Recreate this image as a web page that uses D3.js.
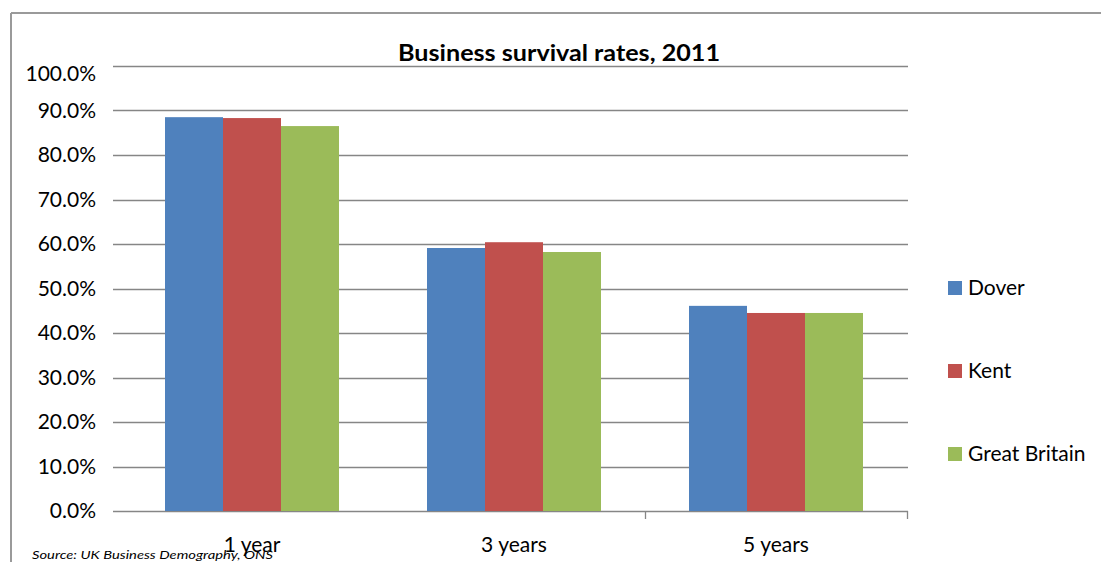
<!DOCTYPE html>
<html>
<head>
<meta charset="utf-8">
<script src="https://cdn.jsdelivr.net/npm/d3@7"></script>
<style>
  html, body { margin: 0; padding: 0; background: #fff; }
  svg { display: block; }
  text { font-family: Lato, "Open Sans", sans-serif; fill: #000; }
</style>
</head>
<body>
<svg id="chart" width="1101" height="562"></svg>
<script>
const categories = ["1 year", "3 years", "5 years"];
const seriesNames = ["Dover", "Kent", "Great Britain"];
const dover = [0.885, 0.591, 0.461];
const kent = [0.883, 0.604, 0.445];
const greatBritain = [0.865, 0.582, 0.445];
const yTicks = [0, 0.1, 0.2, 0.3, 0.4, 0.5, 0.6, 0.7, 0.8, 0.9, 1.0];
const colors = ["#4F81BD", "#C0504D", "#9BBB59"];
const title = "Business survival rates, 2011";
const source = "Source: UK Business Demography, ONS";

const seriesValues = [dover, kent, greatBritain];
const svg = d3.select("#chart");

// outer chart border (top and left visible)
svg.append("line").attr("x1", 11).attr("x2", 1101).attr("y1", 13).attr("y2", 13)
  .attr("stroke", "#9a9a9a").attr("stroke-width", 2);
svg.append("line").attr("x1", 11).attr("x2", 11).attr("y1", 13).attr("y2", 562)
  .attr("stroke", "#9a9a9a").attr("stroke-width", 2);

const plotLeft = 113, plotRight = 908, plotTop = 66, plotBottom = 511;

const y = d3.scaleLinear().domain([0, 1]).range([plotBottom, plotTop]);
const x0 = d3.scaleBand().domain(categories).range([121, 907])
  .paddingInner(88 / 262).paddingOuter(44 / 262);
const x1 = d3.scaleBand().domain(seriesNames).range([0, x0.bandwidth()]).padding(0);

// gridlines
svg.append("g").selectAll("line").data(yTicks).join("line")
  .attr("x1", plotLeft).attr("x2", plotRight)
  .attr("y1", d => Math.round(y(d)) + 0.5).attr("y2", d => Math.round(y(d)) + 0.5)
  .attr("stroke", "#868686").attr("stroke-width", 1.3);

// y tick labels
svg.append("g").selectAll("text").data(yTicks).join("text")
  .attr("x", 96)
  .attr("y", d => y(d) + (d === 1 ? 8 : 0))
  .attr("dy", "0.35em")
  .attr("text-anchor", "end")
  .attr("font-size", 21)
  .text(d => d3.format(".1%")(d));

// bars
const groups = svg.append("g").selectAll("g").data(categories).join("g")
  .attr("transform", c => `translate(${x0(c)},0)`);
groups.selectAll("rect")
  .data((c, i) => seriesNames.map((s, j) => ({ s, j, v: seriesValues[j][i] })))
  .join("rect")
  .attr("x", d => x1(d.s))
  .attr("width", x1.bandwidth())
  .attr("y", d => y(d.v))
  .attr("height", d => y(0) - y(d.v))
  .attr("fill", d => colors[d.j]);

// x axis tick marks (visible after 2nd and 3rd categories)
const step = x0.step();
const boundaries = categories.slice(1).map(c => x0(c) + x0.bandwidth() + step * x0.paddingInner() / 2);
svg.append("g").selectAll("line").data(boundaries).join("line")
  .attr("x1", d => Math.round(d) + 0.5).attr("x2", d => Math.round(d) + 0.5)
  .attr("y1", plotBottom).attr("y2", plotBottom + 8)
  .attr("stroke", "#868686").attr("stroke-width", 1.3);

// category labels
svg.append("g").selectAll("text").data(categories).join("text")
  .attr("x", c => x0(c) + x0.bandwidth() / 2)
  .attr("y", 552)
  .attr("text-anchor", "middle")
  .attr("font-size", 21)
  .text(c => c);

// title
svg.append("text")
  .attr("x", 559).attr("y", 61)
  .attr("text-anchor", "middle")
  .attr("font-size", 22).attr("font-weight", "bold")
  .attr("textLength", 322).attr("lengthAdjust", "spacingAndGlyphs")
  .text(title);

// legend
const legend = svg.append("g").selectAll("g").data(seriesNames).join("g")
  .attr("transform", (d, i) => `translate(948,${288 + i * 83})`);
legend.append("rect").attr("x", 0).attr("y", -7).attr("width", 14).attr("height", 14)
  .attr("fill", (d, i) => colors[i]);
legend.append("text").attr("x", 20).attr("y", 0).attr("dy", "0.35em")
  .attr("font-size", 21).text(d => d);

// source note
svg.append("text")
  .attr("x", 32).attr("y", 559)
  .attr("font-size", 12).attr("font-style", "italic")
  .attr("textLength", 241).attr("lengthAdjust", "spacingAndGlyphs")
  .text(source);
</script>
</body>
</html>
